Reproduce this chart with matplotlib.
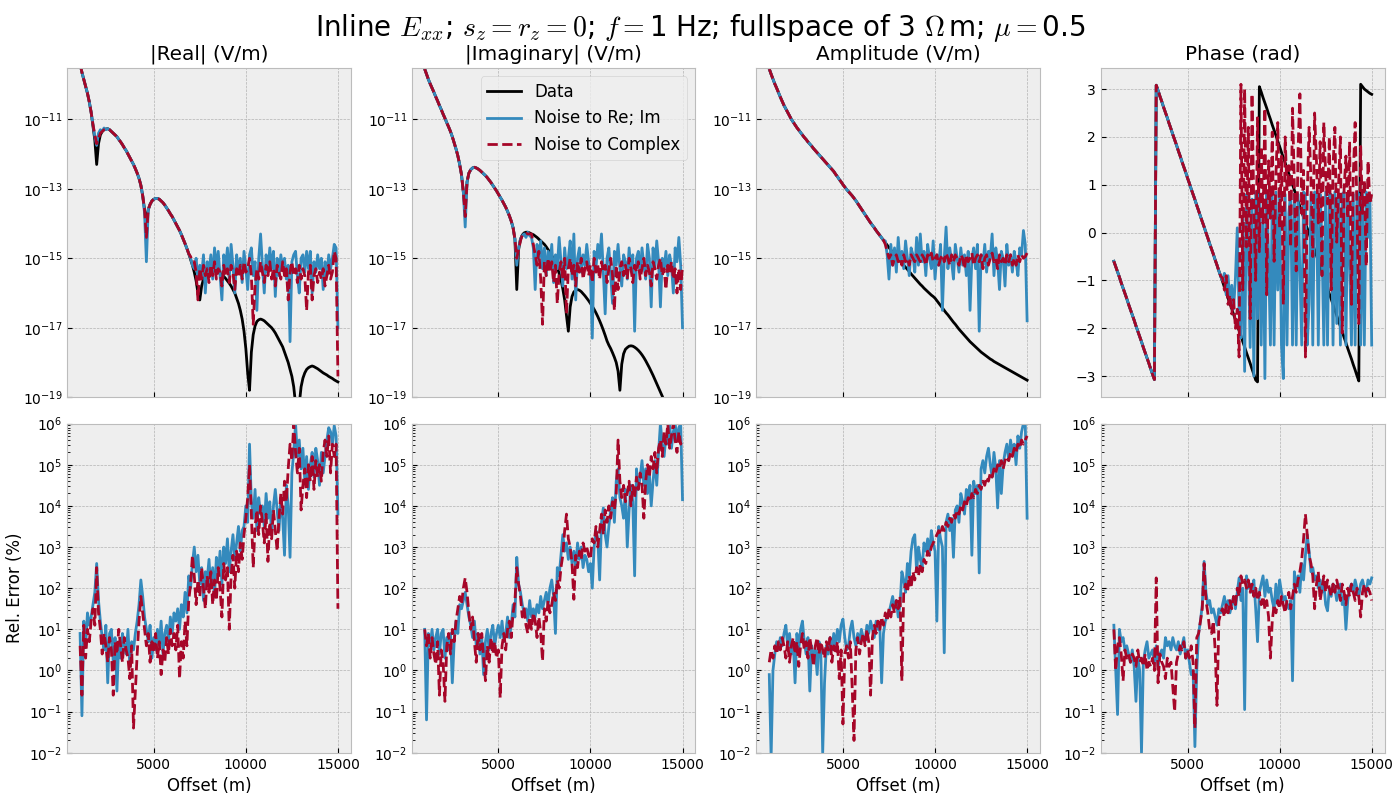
import numpy as np
import matplotlib
matplotlib.use("Agg")
import matplotlib.pyplot as plt

plt.style.use("bmh")

# offsets (m), 100 m spacing
offsets = np.arange(1000, 15001, 100)

# ---- top row: log10 of |Re|, |Im|, amplitude (V/m); phase in rad ----
re_data = [
    -9.4, -9.65, -9.85, -10.05, -10.25, -10.5, -10.8, -11.2, -11.6, -12.3,
    -11.7, -11.45, -11.35, -11.3, -11.28, -11.27, -11.3, -11.35, -11.4, -11.45,
    -11.5, -11.58, -11.65, -11.73, -11.82, -11.9, -12.0, -12.1, -12.2, -12.3,
    -12.42, -12.55, -12.7, -12.9, -13.2, -13.6, -14.0, -13.6, -13.45, -13.35,
    -13.3, -13.28, -13.28, -13.3, -13.35, -13.4, -13.47, -13.55, -13.63, -13.72,
    -13.8, -13.9, -14.0, -14.1, -14.2, -14.32, -14.45, -14.58, -14.72, -14.87,
    -15.03, -15.2, -15.4, -15.65, -16.0, -16.2, -15.8, -15.6, -15.5, -15.45,
    -15.4, -15.38, -15.37, -15.37, -15.38, -15.4, -15.43, -15.47, -15.52, -15.58,
    -15.65, -15.72, -15.8, -15.9, -16.0, -16.15, -16.3, -16.5, -16.75, -17.1,
    -17.6, -18.3, -18.8, -17.7, -17.2, -16.95, -16.82, -16.77, -16.75, -16.77,
    -16.8, -16.85, -16.9, -16.95, -17.0, -17.07, -17.15, -17.25, -17.35, -17.45,
    -17.55, -17.7, -17.85, -18.0, -18.2, -18.4, -18.7, -19.2, -20.0, -19.2,
    -18.7, -18.45, -18.3, -18.2, -18.15, -18.12, -18.1, -18.12, -18.15, -18.18,
    -18.22, -18.26, -18.3, -18.33, -18.36, -18.4, -18.43, -18.46, -18.5, -18.53,
    -18.56]
re_reim = [
    -9.4, -9.65, -9.85, -10.05, -10.25, -10.5, -10.8, -11.15, -11.5, -11.75,
    -11.4, -11.3, -11.35, -11.25, -11.3, -11.27, -11.3, -11.35, -11.4, -11.45,
    -11.5, -11.58, -11.65, -11.73, -11.82, -11.9, -12.0, -12.1, -12.2, -12.3,
    -12.42, -12.55, -12.7, -12.9, -13.2, -13.7, -15.1, -13.6, -13.45, -13.35,
    -13.3, -13.28, -13.28, -13.3, -13.35, -13.4, -13.47, -13.55, -13.63, -13.72,
    -13.8, -13.9, -14.0, -14.1, -14.2, -14.32, -14.45, -14.58, -14.72, -14.87,
    -15.0, -15.2, -15.3, -15.0, -15.6, -15.2, -15.5, -14.9, -16.0, -15.1,
    -15.4, -14.9, -15.6, -14.7, -15.3, -14.8, -15.5, -16.2, -14.9, -15.3,
    -14.7, -15.6, -14.6, -15.2, -16.0, -14.9, -15.4, -15.0, -15.7, -14.8,
    -15.3, -15.9, -14.9, -14.7, -15.5, -15.1, -16.5, -15.0, -14.3, -15.2,
    -16.0, -14.9, -15.4, -14.7, -15.3, -14.8, -16.1, -15.0, -15.5, -14.9,
    -15.3, -15.0, -15.6, -15.2, -17.4, -15.1, -14.9, -14.8, -15.5, -16.0,
    -15.0, -14.9, -15.4, -14.8, -15.3, -14.8, -16.0, -15.1, -15.4, -14.9,
    -15.3, -15.0, -15.9, -15.1, -15.5, -14.9, -15.3, -15.0, -14.6, -14.7,
    -17.0]
re_cplx = [
    -9.4, -9.65, -9.85, -10.05, -10.25, -10.5, -10.8, -11.15, -11.45, -11.7,
    -11.55, -11.4, -11.35, -11.3, -11.28, -11.27, -11.3, -11.35, -11.4, -11.45,
    -11.5, -11.58, -11.65, -11.73, -11.82, -11.9, -12.0, -12.1, -12.2, -12.3,
    -12.42, -12.55, -12.7, -12.9, -13.2, -13.6, -14.4, -13.6, -13.45, -13.35,
    -13.3, -13.28, -13.28, -13.3, -13.35, -13.4, -13.47, -13.55, -13.63, -13.72,
    -13.8, -13.9, -14.0, -14.1, -14.2, -14.32, -14.45, -14.58, -14.72, -14.87,
    -14.95, -15.1, -15.1, -15.4, -16.2, -15.3, -15.6, -15.2, -15.5, -15.3,
    -15.7, -15.2, -15.5, -15.1, -15.6, -15.3, -15.4, -15.8, -15.2, -15.5,
    -15.3, -15.7, -15.2, -15.4, -15.9, -15.3, -15.5, -15.2, -15.6, -15.1,
    -15.4, -15.3, -15.0, -15.5, -16.9, -15.8, -15.3, -15.6, -15.1, -15.4,
    -15.7, -15.2, -15.5, -15.1, -15.6, -15.3, -15.8, -15.2, -15.4, -15.6,
    -15.1, -15.5, -15.3, -16.2, -15.4, -15.1, -15.5, -15.3, -15.7, -15.2,
    -15.6, -15.3, -15.5, -16.5, -15.4, -15.2, -16.2, -15.5, -15.3, -15.7,
    -15.4, -15.6, -15.3, -15.8, -15.5, -15.2, -15.6, -15.4, -14.8, -15.0,
    -18.4]

im_data = [
    -9.55, -9.7, -9.85, -9.98, -10.1, -10.22, -10.35, -10.47, -10.6, -10.72,
    -10.85, -10.97, -11.1, -11.22, -11.35, -11.5, -11.67, -11.85, -12.05, -12.3,
    -12.6, -13.1, -13.6, -12.8, -12.55, -12.45, -12.4, -12.38, -12.4, -12.43,
    -12.47, -12.52, -12.57, -12.62, -12.68, -12.75, -12.82, -12.9, -12.98, -13.06,
    -13.15, -13.24, -13.33, -13.43, -13.53, -13.65, -13.78, -13.93, -14.12, -14.45,
    -15.9, -14.75, -14.45, -14.33, -14.27, -14.25, -14.25, -14.27, -14.3, -14.32,
    -14.36, -14.4, -14.45, -14.5, -14.55, -14.6, -14.67, -14.75, -14.83, -14.92,
    -15.02, -15.13, -15.27, -15.43, -15.62, -15.88, -16.2, -16.65, -17.1, -16.4,
    -16.1, -15.97, -15.92, -15.9, -15.92, -15.96, -16.02, -16.08, -16.15, -16.22,
    -16.3, -16.38, -16.47, -16.57, -16.68, -16.8, -16.93, -17.07, -17.22, -17.38,
    -17.5, -17.6, -17.72, -17.85, -18.0, -18.25, -18.8, -18.05, -17.75, -17.62,
    -17.57, -17.53, -17.52, -17.53, -17.56, -17.6, -17.65, -17.71, -17.78, -17.86,
    -17.95, -18.05, -18.15, -18.26, -18.37, -18.49, -18.61, -18.73, -18.85, -18.97,
    -19.1, -19.23, -19.36, -19.5, -19.64, -19.78, -19.92, -20.06, -20.2, -20.35,
    -20.5]
im_reim = [
    -9.55, -9.7, -9.85, -9.98, -10.1, -10.22, -10.35, -10.47, -10.6, -10.72,
    -10.85, -10.97, -11.1, -11.22, -11.35, -11.5, -11.67, -11.85, -12.05, -12.3,
    -12.6, -13.1, -14.1, -12.8, -12.55, -12.45, -12.4, -12.38, -12.4, -12.43,
    -12.47, -12.52, -12.57, -12.62, -12.68, -12.75, -12.82, -12.9, -12.98, -13.06,
    -13.15, -13.24, -13.33, -13.43, -13.53, -13.65, -13.78, -13.93, -14.12, -14.45,
    -15.2, -14.7, -14.45, -14.35, -14.3, -14.4, -14.25, -14.35,
    -14.4, -14.7, -15.9, -14.6, -15.0, -14.5, -15.3, -14.7, -15.5, -14.8,
    -15.2, -14.6, -15.7, -14.9, -15.3, -14.4, -15.1, -15.8, -14.7, -15.3,
    -15.0, -14.5, -15.6, -14.3, -16.2, -15.0, -14.7, -15.4, -14.9, -15.2,
    -14.6, -15.1, -15.5, -17.3, -14.8, -15.3, -14.6, -15.0, -14.3, -15.4,
    -16.6, -15.0, -14.7, -15.5, -16.3, -14.8, -15.2, -14.6, -15.3, -15.8,
    -14.9, -15.1, -15.6, -14.7, -15.3, -14.9, -17.1, -15.0, -14.8, -15.4,
    -14.7, -15.2, -15.6, -14.6, -15.0, -16.4, -14.7, -15.3, -14.5, -15.1,
    -16.4, -15.0, -15.3, -14.8, -15.5, -14.9, -15.2, -16.0, -14.7, -15.1,
    -14.4, -15.2, -17.0]
im_cplx = [
    -9.55, -9.7, -9.85, -9.98, -10.1, -10.22, -10.35, -10.47, -10.6, -10.72,
    -10.85, -10.97, -11.1, -11.22, -11.35, -11.5, -11.67, -11.85, -12.05, -12.3,
    -12.6, -13.1, -13.8, -12.8, -12.55, -12.45, -12.4, -12.38, -12.4, -12.43,
    -12.47, -12.52, -12.57, -12.62, -12.68, -12.75, -12.82, -12.9, -12.98, -13.06,
    -13.15, -13.24, -13.33, -13.43, -13.53, -13.65, -13.78, -13.93, -14.12, -14.45,
    -15.0, -14.75, -14.5, -14.33, -14.3, -14.28, -14.3, -14.3,
    -14.3, -14.6, -14.9, -15.2, -14.8, -15.6, -16.9, -15.1, -15.5, -15.0,
    -15.4, -15.1, -15.7, -15.2, -16.3, -15.4, -15.1, -15.6, -15.0, -16.6,
    -15.3, -15.0, -15.5, -15.2, -15.8, -15.1, -15.4, -15.0, -15.6, -15.3,
    -15.1, -15.5, -15.2, -15.7, -15.0, -15.4, -15.2, -15.6, -15.1, -15.4,
    -15.2, -15.7, -15.3, -15.0, -15.5, -16.5, -15.2, -15.9, -15.3, -15.1,
    -15.5, -15.2, -15.6, -15.0, -15.3, -15.7, -15.2, -15.4, -15.1, -15.6,
    -15.3, -15.0, -15.5, -15.2, -15.4, -15.8, -15.1, -15.3, -15.6, -15.2,
    -15.0, -15.5, -15.3, -15.9, -15.2, -15.4, -15.1, -15.6, -15.3, -16.0,
    -15.3, -15.9, -15.2]

amp_data = [
    -9.55, -9.7, -9.84, -9.98, -10.1, -10.23, -10.36, -10.48, -10.6, -10.7,
    -10.8, -10.9, -11.0, -11.08, -11.16, -11.24, -11.31, -11.38, -11.45, -11.52,
    -11.58, -11.65, -11.71, -11.77, -11.84, -11.9, -11.96, -12.02, -12.08, -12.14,
    -12.2, -12.26, -12.32, -12.38, -12.44, -12.5, -12.58, -12.65, -12.73, -12.8,
    -12.88, -12.95, -13.02, -13.08, -13.14, -13.2, -13.27, -13.34, -13.42, -13.5,
    -13.58, -13.66, -13.74, -13.82, -13.9, -13.98, -14.05, -14.12, -14.2, -14.27,
    -14.34, -14.41, -14.48, -14.55, -14.62, -14.69, -14.76, -14.83, -14.89, -14.95,
    -15.01, -15.07, -15.13, -15.2, -15.26, -15.32, -15.38, -15.45, -15.51, -15.57,
    -15.63, -15.69, -15.75, -15.8, -15.86, -15.91, -15.96, -16.01, -16.06, -16.1,
    -16.15, -16.22, -16.29, -16.36, -16.43, -16.5, -16.57, -16.63, -16.7, -16.77,
    -16.84, -16.9, -16.97, -17.04, -17.1, -17.16, -17.22, -17.28, -17.34, -17.4,
    -17.45, -17.5, -17.55, -17.6, -17.65, -17.7, -17.74, -17.78, -17.82, -17.86,
    -17.9, -17.93, -17.97, -18.0, -18.03, -18.06, -18.09, -18.12, -18.15, -18.18,
    -18.21, -18.24, -18.27, -18.3, -18.33, -18.36, -18.39, -18.42, -18.45, -18.48,
    -18.51]
# noise floor part, 7300 m to 15000 m
amp_reim_tail = [
    -14.5, -14.9, -15.6, -14.6, -15.2, -14.7, -15.4, -14.4, -15.1, -14.8,
    -15.3, -14.5, -15.0, -15.5, -14.7, -14.9, -15.4, -14.4, -15.2, -14.3,
    -15.1, -14.8, -15.5, -14.6, -15.0, -15.3, -14.5, -15.6, -14.9, -15.2,
    -14.6, -16.5, -15.0, -14.1, -15.3, -14.7, -15.1, -15.6, -14.6, -15.0,
    -15.4, -14.7, -15.2, -14.9, -15.5, -14.8, -16.5, -15.0, -14.7, -15.3,
    -14.6, -17.1, -14.9, -15.2, -14.6, -15.4, -14.8, -15.0, -14.3, -15.5,
    -14.7, -15.1, -15.9, -14.8, -15.0, -15.8, -14.6, -15.2, -14.9, -15.4,
    -14.8, -15.1, -15.5, -14.7, -14.9, -14.2, -14.6, -16.8]
amp_cplx_tail = [
    -14.6, -14.8, -15.0, -14.9, -15.2, -15.0, -14.9, -15.1, -15.0, -15.2,
    -14.9, -15.1, -15.0, -15.2, -14.9, -15.0, -15.1, -14.9, -15.0, -15.1,
    -14.9, -15.0, -15.2, -14.9, -15.0, -14.85, -15.1, -15.0, -14.9, -15.2,
    -15.0, -14.9, -15.1, -14.85, -15.0, -15.2, -14.9, -15.1, -14.9, -15.0,
    -15.2, -14.9, -15.0, -15.3, -14.9, -15.1, -15.0, -14.85, -15.2, -15.0,
    -14.9, -15.1, -14.9, -15.3, -15.0, -14.9, -15.2, -15.0, -14.85, -15.1,
    -15.0, -15.3, -14.9, -15.1, -15.0, -15.2, -14.9, -15.1, -14.9, -15.2,
    -15.0, -15.2, -14.9, -15.1, -14.9, -15.0, -14.95, -14.85]
amp_reim = amp_data[:63] + amp_reim_tail
amp_cplx = amp_data[:63] + amp_cplx_tail

pha_data = [
    -0.6, -0.71, -0.82, -0.93, -1.05, -1.16, -1.27, -1.38, -1.5, -1.61,
    -1.72, -1.83, -1.95, -2.06, -2.17, -2.28, -2.4, -2.51, -2.62, -2.73,
    -2.85, -2.96, -3.07,
    3.08, 2.97, 2.85, 2.74, 2.62, 2.51, 2.4, 2.28, 2.17, 2.05,
    1.94, 1.83, 1.71, 1.6, 1.48, 1.37, 1.26, 1.14, 1.03, 0.91,
    0.8, 0.69, 0.57, 0.46, 0.34, 0.23, 0.12, 0.0, -0.11, -0.23,
    -0.34, -0.45, -0.57, -0.68, -0.8, -0.91, -1.02, -1.14, -1.25, -1.37,
    -1.48, -1.59, -1.71, -1.82, -1.94, -2.05, -2.16, -2.28, -2.39, -2.51,
    -2.62, -2.73, -2.85, -2.96, -3.08, -3.12,
    3.05, 2.94, 2.82, 2.71, 2.6, 2.48, 2.37, 2.25, 2.14, 2.03,
    1.91, 1.8, 1.68, 1.57, 1.46, 1.34, 1.23, 1.12, 1.0, 0.89,
    0.77, 0.66, 0.55, 0.43, 0.32, 0.2, 0.09, -0.02, -0.14, -0.25,
    -0.36, -0.48, -0.59, -0.71, -0.82, -0.93, -1.05, -1.16, -1.28, -1.39,
    -1.5, -1.62, -1.73, -1.85, -1.96, -2.07, -2.19, -2.3, -2.42, -2.53,
    -2.64, -2.76, -2.87, -2.99, -3.1,
    3.1, 3.05, 3.0, 2.97, 2.94, 2.91, 2.89]
# noisy part, 6900 m to 15000 m
pha_reim_tail = [
    -1.0, -0.85, -1.3, -0.9, -1.45, -1.1, -1.6, -0.95, 0.1, -1.7,
    -2.2, 0.3, -2.9, 0.8, -0.4, -2.4, 0.7, -3.0, 0.85, -1.8,
    0.8, -2.35, 0.6, -3.05, 0.85, -0.5, -2.35, 0.8, -2.35, 0.85,
    -1.2, 0.8, -2.35, -3.05, 0.8, -2.35, 0.4, 0.85, -2.35, 0.8,
    -2.35, 0.8, -0.8, -2.35, 0.85, 0.8, -2.35, -1.5, 0.8, -2.35,
    0.85, 0.8, -2.35, 0.8, -0.2, -2.35, 0.85, -2.35, 0.8, 0.8,
    -2.35, 0.85, -1.9, 0.8, -2.35, 0.8, 0.85, -2.35, 0.8, -0.6,
    -2.35, 0.8, -2.35, 0.85, 0.8, -2.35, 0.8, -2.35, 0.85, -0.1,
    0.8, -2.35]
pha_cplx_tail = [
    -0.95, -1.2, -0.9, -1.5, -1.3, -1.7, -1.4, -2.0, -1.6, -2.6,
    3.1, -1.2, 3.0, -0.3, 2.2, -1.8, 2.9, 0.5, -1.0, 2.4,
    -0.4, 1.8, 0.2, 2.6, -1.3, 1.5, 0.3, 2.1, -0.6, 1.2,
    2.3, 0.1, 1.6, -1.5, 2.0, 0.9, 1.4, -0.3, 2.6, 1.0,
    -0.8, 1.7, 2.9, 0.4, 1.3, -2.6, 0.8, 2.2, 1.1, -0.5,
    2.5, 1.5, 0.2, 1.9, -0.9, 2.3, 1.2, 0.6, 2.0, -1.2,
    1.4, 2.2, -0.2, 1.0, 2.0, -2.1, 0.9, 1.6, 0.3, 1.9,
    -1.5, 1.2, 2.3, 0.5, -1.9, 1.8, 0.4, 1.1, -0.7, 1.5,
    0.6, 0.8]
pha_reim = pha_data[:59] + pha_reim_tail
pha_cplx = pha_data[:59] + pha_cplx_tail

# ---- bottom row: log10 of relative error (%) ----
err_re_reim = [
    0.9, -1.1, 1.2, 0.6, 1.4, 1.1, 1.3, 1.6, 1.9, 2.6,
    1.7, 1.2, 0.8, 0.5, 1.1, -0.3, 0.9, 1.0, 0.2, 0.8,
    -0.5, 0.7, 0.3, 0.9, 0.6, 0.4, 1.0, 0.1, 0.7, 0.5,
    0.9, 1.2, 1.6, 2.2, 1.8, 1.3, 1.0, 0.7, 1.1, 0.3,
    0.8, 0.5, 1.0, 0.6, 1.2, 0.4, 0.9, 1.1, 0.7, 1.3,
    0.9, 1.4, 1.2, 1.5, 1.0, 1.6, 1.3, 1.9, 1.4, 2.3,
    2.0, 2.6, 3.0, 2.4, 2.8, 2.1, 2.5, 1.7, 2.4, 2.2,
    2.7, 2.0, 2.5, 1.8, 2.75, 2.3, 2.9, 2.1, 3.0, 2.6,
    3.2, 2.4, 2.9, 3.3, 2.7, 3.1, 3.5, 2.9, 3.4, 3.5,
    4.0, 3.6, 5.5, 4.1, 3.7, 4.4, 3.4, 4.2, 3.8, 4.0,
    3.5, 4.3, 3.7, 4.1, 3.3, 4.0, 4.4, 3.9, 3.4, 4.2,
    3.7, 2.8, 4.5, 4.0, 2.75, 4.8, 5.3, 6.0, 5.2, 5.6,
    4.9, 5.4, 4.6, 5.2, 4.4, 5.0, 5.3, 4.7, 5.4, 5.1,
    4.5, 5.3, 4.8, 5.2, 5.6, 5.9, 5.8, 5.5, 5.95, 5.7,
    3.8]
err_re_cplx = [
    0.6, -0.6, 1.1, 0.3, 1.0, 0.7, 1.2, 1.5, 1.1, 2.5,
    1.4, 1.0, 0.4, 0.9, 0.6, 0.2, 0.8, 0.5, -0.6, 0.7,
    0.4, 1.0, 0.6, 0.2, 0.8, 0.5, 0.3, -0.2, 0.6, -1.4,
    -0.5, 0.4, 1.2, 1.8, 1.4, 1.0, 0.6, 0.9, 0.2, 0.7,
    0.5, 0.9, 0.3, 0.7, -0.1, 0.5, 0.2, 0.8, 0.4, 1.0,
    0.6, 0.9, 0.5, 1.1, -0.2, 0.7, 0.3, 1.2, 0.6, 1.7,
    2.1, 2.8, 2.3, 1.6, 2.2, 1.8, 2.5, 2.0, 1.5, 2.3,
    1.9, 2.4, 1.6, 2.2, 1.7, 2.5, 2.0, 1.3, 2.6, 2.2,
    2.5, 1.0, 2.3, 2.8, 2.0, 2.9, 2.4, 3.1, 2.7, 3.3,
    3.7, 4.2, 5.0, 3.8, 2.5, 3.5, 3.9, 3.3, 4.0, 3.6,
    3.1, 3.8, 2.65, 3.6, 3.2, 3.9, 3.4, 2.9, 3.7, 4.3,
    3.8, 4.6, 4.1, 4.9, 5.5, 5.1, 6.0, 5.3, 4.8, 5.4,
    3.9, 4.5, 4.9, 4.2, 5.0, 4.6, 5.2, 4.4, 5.1, 4.7,
    5.0, 4.6, 5.3, 5.6, 5.2, 5.7, 4.8, 5.5, 5.2, 5.5,
    1.5]
err_im_reim = [
    1.0, -1.2, 0.9, 0.6, 1.0, 0.5, 0.8, 1.0, 0.4, 0.9,
    1.0, 0.3, 0.8, 0.5, 0.9, -0.3, 0.7, 1.2, 0.9, 1.6,
    1.5, 1.7, 1.9, 1.6, 1.3, 1.1, 0.8, 1.2, 0.6, 0.9,
    0.4, 0.8, -0.1, 0.7, 1.0, 0.5, 0.9, 1.1, 0.6, 0.9,
    1.1, 0.8, 1.2, 0.7, 0.9, 1.3, 0.8, 1.1, 1.6, 1.3,
    2.75, 2.1, 1.9, 1.6, 1.4, 1.5, 1.2, 1.7, 1.3, 1.5,
    1.3, 1.6, 1.4, 1.8, 1.5, 1.7, 1.9, 1.6, 2.0, 2.2,
    1.8, 0.9, 2.5, 2.3, 2.8, 3.3, 2.9, 3.1, 2.7, 3.0,
    2.6, 2.9, 2.5, 3.1, 2.7, 3.0, 2.5, 2.8, 2.7, 2.4,
    2.6, 2.0, 3.0, 3.4, 3.2, 2.2, 3.6, 3.95, 3.3, 3.0,
    3.5, 3.9, 4.2, 3.6, 4.6, 4.9, 4.2, 4.0, 3.7, 4.4,
    3.0, 3.9, 4.5, 4.1, 2.3, 4.9, 4.4, 4.7, 5.1, 4.5,
    4.9, 4.3, 4.8, 4.0, 4.6, 5.1, 4.5, 5.3, 6.0, 5.5,
    5.2, 5.7, 5.5, 6.0, 5.4, 5.8, 6.0, 5.6, 5.9, 6.0,
    4.15]
err_im_cplx = [
    1.0, 0.6, 0.9, 0.3, 0.8, 0.4, 0.15, 0.7, -0.6, 0.5,
    0.2, -0.75, 0.6, 0.9, 0.4, 1.0, 0.7, 1.2, 1.5, 1.8,
    1.6, 2.0, 2.25, 1.9, 1.4, 1.0, 1.3, 0.7, 0.2, 0.9,
    0.5, 0.9, 0.3, -0.25, 0.6, 0.2, 0.8, 0.4, 0.7, 0.3,
    0.5, -0.66, 0.6, 0.9, 0.5, 1.0, 1.2, 0.8, 1.4, 1.7,
    2.5, 2.1, 1.8, 1.3, 1.5, 1.1, 0.9, 1.3, 1.0, 1.4,
    1.2, 0.8, 1.3, 0.9, 0.23, 1.5, 1.2, 1.7, 1.4, 1.6,
    1.9, 1.7, 2.2, 2.0, 2.5, 2.8, 3.4, 3.8, 3.2, 3.0,
    2.6, 1.73, 2.8, 2.5, 2.9, 2.7, 3.1, 2.9, 3.0, 2.8,
    2.7, 3.2, 3.1, 3.5, 3.0, 3.4, 3.8, 3.3, 3.9, 3.6,
    4.0, 3.7, 4.1, 3.9, 4.3, 5.6, 4.6, 4.2, 4.5, 4.1,
    4.3, 4.6, 4.0, 4.5, 4.2, 4.7, 4.4, 4.8, 4.5, 3.7,
    4.6, 5.0, 4.7, 5.2, 4.9, 5.3, 4.8, 5.4, 5.6, 5.2,
    5.8, 5.5, 6.0, 5.4, 5.7, 6.0, 5.6, 5.3, 5.8, 5.5,
    5.6]
err_amp_reim = [
    -0.1, -2.1, 0.0, 0.4, 0.7, 0.5, 0.8, 0.6, 0.9, 1.1,
    0.6, 0.9, 0.4, 0.7, -0.3, 0.9, 0.5, 1.0, 1.2, 0.7,
    0.4, 0.8, -0.5, 0.6, 0.3, 0.5, -0.1, 0.7, 0.4, -2.0,
    -0.3, 0.6, 0.4, 0.8, 0.5, 0.9, 0.6, 1.0, 0.7, 1.1,
    1.25, 0.8, 0.5, 0.6, 1.0, 1.2, 0.8, 0.6, 0.9, 0.7,
    1.0, 0.8, 0.7, 1.1, 0.9, 1.2, 1.0, 0.8, 1.2, 1.0,
    1.1, -0.3, 0.9, 1.2, 1.3, 1.4, 1.6, 1.8, 1.5, 1.7,
    1.3, 1.6, 2.4, 2.2, 1.9, 2.6, 2.3, 2.9, 3.2, 3.3,
    2.4, 3.0, 2.7, 2.5, 3.1, 2.9, 3.2, 2.8, 3.4, 3.1,
    2.9, 1.2, 3.5, 3.2, 3.0, 0.43, 3.6, 3.8, 3.4, 3.7,
    2.75, 3.9, 4.0, 3.6, 4.3, 4.1, 3.8, 4.4, 4.2, 4.5,
    2.8, 4.6, 4.3, 4.5, 2.37, 4.9, 5.1, 4.8, 5.2, 5.4,
    5.0, 4.7, 5.3, 4.9, 3.95, 5.1, 4.3, 5.0, 5.3, 5.5,
    5.1, 5.6, 5.3, 5.5, 5.0, 5.7, 5.4, 5.8, 6.0, 6.0,
    3.7]
err_amp_cplx = [
    0.2, 0.5, 0.3, 0.6, 0.4, 0.7, 0.5, 0.8, 0.6, 0.3,
    0.7, 0.2, 0.6, 0.8, 0.4, 0.7, 0.1, 0.6, 0.9, 0.5,
    0.7, 0.3, 0.8, 0.5, 0.1, 0.6, 0.8, 0.4, 0.7, 0.5,
    0.3, 0.7, 0.5, 0.8, 0.2, 0.6, 0.4, 0.7, -0.2, 0.5,
    -1.3, 0.4, 0.6, 0.3, 0.7, -0.4, -1.7, 0.5, 0.8, 0.4,
    0.7, 0.9, 0.6, 1.0, 0.7, -0.6, 0.8, 1.1, 0.9, 1.2,
    1.0, 1.3, 1.1, 1.4, 1.2, 1.5, 1.3, 1.6, 1.4, 1.7,
    1.5, 1.8, -0.25, 1.9, 2.1, 1.9, 2.3, 2.0, 2.4, 2.2,
    2.5, 2.3, 2.6, 2.4, 2.7, 2.6, 2.9, 2.8, 3.0, 3.1,
    3.2, 3.3, 3.4, 3.3, 3.5, 3.4, 3.6, 3.5, 3.7, 3.6,
    3.8, 3.7, 3.9, 3.8, 4.0, 3.9, 4.1, 4.0, 4.2, 4.1,
    4.3, 4.2, 4.4, 4.3, 4.5, 4.4, 4.6, 4.5, 4.7, 4.6,
    4.8, 4.7, 4.9, 4.8, 5.0, 4.9, 5.1, 4.9, 5.1, 5.2,
    5.1, 5.3, 5.2, 5.4, 5.3, 5.5, 5.4, 5.6, 5.5, 5.6,
    5.7]
err_pha_reim = [
    1.1, 0.0, -1.07, 1.0, 0.7, 0.8, 0.5, 0.6, 0.4, 0.2,
    0.5, 0.1, -0.75, 0.3, 0.0, -2.0, 0.2, 0.5, 0.7, 0.3,
    0.4, 0.5, 0.2, 0.6, 0.1, 0.4, 0.5, 0.3, 0.8, 0.6,
    0.7, 0.5, 0.8, 0.6, 0.5, 0.7, 0.4, 0.6, 0.8, 0.3,
    0.5, 0.2, -0.1, 0.0, -1.85, 0.0, 0.9, 1.2, 1.6, 2.65,
    1.9, 1.6, 1.7, 1.4, 1.5, 1.3, 1.1, 1.5, 1.4, 1.6,
    1.8, 1.5, 1.7, 1.4, 1.6, 1.8, 1.5, 1.9, 2.25, 1.7,
    2.0, -0.95, 2.3, 2.0, 2.1, 1.9, 2.2, 1.5, 0.7, 1.9,
    2.1, 2.3, 1.8, 2.2, 1.9, 2.0, 1.7, 1.5, 2.1, 1.6,
    2.2, 1.9, 1.7, 1.8, 1.6, 1.5, 1.7, -0.25, 2.4, 2.0,
    2.3, 1.9, 2.6, 2.2, 2.8, 3.3, 2.9, 2.4, 2.5, 2.2,
    2.3, 2.0, 2.2, 1.9, 2.1, 1.6, 1.45, 2.0, 1.8, 2.1,
    2.0, 1.7, 1.9, 2.1, 1.6, 1.8, 1.0, 1.7, 2.0, 2.1,
    1.9, 2.2, 2.0, 1.8, 2.1, 2.2, 2.0, 1.9, 2.2, 2.1,
    2.25]
err_pha_cplx = [
    1.0, 0.0, 0.6, 0.8, 0.4, -0.25, 0.5, 0.3, 0.4, 0.2,
    0.4, 0.3, 0.1, 0.5, 0.2, 0.3, 0.1, 0.4, 0.0, 0.2,
    0.1, 0.3, 0.0, 2.25, -0.3, 0.4, 0.2, 0.1, -0.2, 0.3,
    0.1, 0.2, -0.4, -1.0, 0.2, 0.4, 0.6, 0.5, 0.7, 0.3,
    0.5, 0.3, 0.6, 0.2, -1.4, 0.8, 0.9, 1.2, 1.5, 2.6,
    1.7, 1.4, 1.0, 0.9, 1.2, 0.5, -0.85, 1.2, 1.4, 1.5,
    1.3, 1.6, 1.4, 1.7, 1.5, 1.8, 1.6, 2.0, 1.8, 2.3,
    2.1, 2.2, 2.0, 2.2, 1.9, 2.1, 1.8, 2.0, 1.7, 1.9,
    1.6, 1.8, 1.5, 1.7, 1.3, 0.3, 1.2, 1.6, 1.4, 1.7,
    1.5, 1.8, 1.6, 1.4, 1.7, 1.9, 1.5, 1.8, 2.1, 1.9,
    2.2, 2.4, 2.7, 3.2, 3.8, 3.3, 2.8, 2.6, 2.3, 1.5,
    2.1, 2.4, 1.7, 2.0, 2.3, 1.9, 2.2, 2.0, 1.8, 2.1,
    1.9, 2.2, 2.0, 1.7, 2.1, 1.9, 1.6, 2.0, 1.8, 2.1,
    1.9, 1.7, 2.0, 1.8, 1.3, 1.9, 2.1, 1.8, 2.0, 1.9,
    1.7]

titles = ["|Real| (V/m)", "|Imaginary| (V/m)", "Amplitude (V/m)", "Phase (rad)"]
xticks = [5000, 10000, 15000]
blue = "#348ABD"
red = "#A60628"

fig, axs = plt.subplots(2, 4, figsize=(14, 8), sharex=True)

top = [(re_data, re_reim, re_cplx), (im_data, im_reim, im_cplx),
       (amp_data, amp_reim, amp_cplx)]
for ax, (d, b, r), title in zip(axs[0, :3], top, titles):
    ax.semilogy(offsets, 10**np.array(d), color="k", lw=2, label="Data")
    ax.semilogy(offsets, 10**np.array(b), color=blue, lw=2, label="Noise to Re; Im")
    ax.semilogy(offsets, 10**np.array(r), color=red, lw=2, ls="--",
                label="Noise to Complex")
    ax.set_ylim(1e-19, 3e-10)
    ax.set_title(title, fontsize=14.4)

ax = axs[0, 3]
ax.plot(offsets, pha_data, color="k", lw=2)
ax.plot(offsets, pha_reim, color=blue, lw=2)
ax.plot(offsets, pha_cplx, color=red, lw=2, ls="--")
ax.set_ylim(-3.44, 3.44)
ax.set_title(titles[3], fontsize=14.4)

axs[0, 1].legend(loc="upper right", fontsize=12)

bottom = [(err_re_reim, err_re_cplx), (err_im_reim, err_im_cplx),
          (err_amp_reim, err_amp_cplx), (err_pha_reim, err_pha_cplx)]
for ax, (b, r) in zip(axs[1], bottom):
    ax.semilogy(offsets, 10**np.array(b), color=blue, lw=2)
    ax.semilogy(offsets, 10**np.array(r), color=red, lw=2, ls="--")
    ax.set_ylim(1e-2, 1e6)
    ax.set_xticks(xticks)
    ax.set_xlabel("Offset (m)", fontsize=12)

axs[1, 0].set_ylabel("Rel. Error (%)", fontsize=12)

fig.suptitle(r"Inline $E_{xx}$; $s_z=r_z=0$; $f=$1 Hz; fullspace of 3 $\Omega\,$m; $\mu=$0.5",
             fontsize=20, y=0.985)
fig.subplots_adjust(left=0.048, right=0.989, top=0.915, bottom=0.059,
                    wspace=0.215, hspace=0.08)
fig.savefig("out.png", dpi=100)
